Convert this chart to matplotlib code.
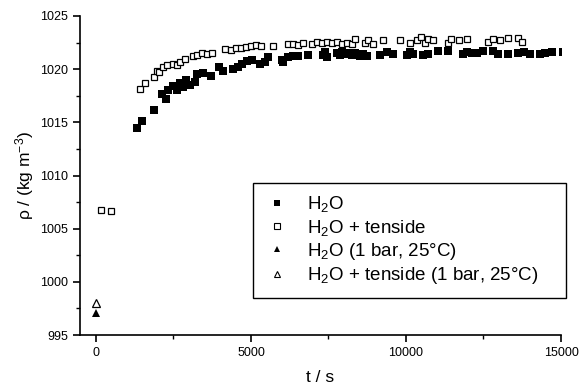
import matplotlib
matplotlib.use("Agg")
import matplotlib.pyplot as plt
from matplotlib.lines import Line2D
from matplotlib.ticker import MultipleLocator

plt.rcParams["font.family"] = ["Liberation Sans", "DejaVu Sans"]
plt.rcParams["mathtext.fontset"] = "custom"
plt.rcParams["mathtext.rm"] = "Liberation Sans"
plt.rcParams["mathtext.it"] = "Liberation Sans:italic"

# H2O (high pressure), time in s, density in kg/m3
t_h2o = [1330, 1500, 1880, 2140, 2250, 2310, 2500, 2600, 2710, 2820, 2900, 3030,
         3180, 3250, 3440, 3720, 3980, 4090, 4430, 4590, 4700, 4860, 5020, 5290,
         5450, 5560, 5990, 6020, 6200, 6360, 6530, 6850, 7330, 7390, 7440, 7760,
         7860, 7950, 8050, 8150, 8250, 8350, 8450, 8520, 8620, 8740, 9160, 9380,
         9590, 10020, 10120, 10230, 10560, 10710, 11040, 11370, 11840, 11970,
         12120, 12280, 12500, 12820, 12980, 13300, 13610, 13800, 14000, 14320,
         14500, 14700, 15080]
rho_h2o = [1014.5, 1015.1, 1016.2, 1017.7, 1017.2, 1018.0, 1018.4, 1018.0, 1018.7,
           1018.3, 1019.0, 1018.5, 1018.8, 1019.5, 1019.6, 1019.4, 1020.2, 1019.8,
           1020.0, 1020.2, 1020.5, 1020.8, 1020.9, 1020.5, 1020.7, 1021.1, 1020.9,
           1020.7, 1021.1, 1021.2, 1021.2, 1021.3, 1021.3, 1021.6, 1021.1, 1021.5,
           1021.3, 1021.6, 1021.4, 1021.5, 1021.3, 1021.5, 1021.4, 1021.2, 1021.4,
           1021.2, 1021.3, 1021.6, 1021.4, 1021.3, 1021.6, 1021.4, 1021.3, 1021.4,
           1021.7, 1021.7, 1021.4, 1021.6, 1021.5, 1021.5, 1021.7, 1021.7, 1021.4,
           1021.4, 1021.5, 1021.6, 1021.4, 1021.4, 1021.5, 1021.6, 1021.6]

# H2O + tenside (high pressure)
t_tens = [150, 470, 1420, 1580, 1870, 1960, 2040, 2150, 2300, 2470, 2600, 2710,
          2870, 3140, 3270, 3410, 3570, 3730, 4160, 4360, 4520, 4680, 4840, 5000,
          5160, 5320, 5710, 6190, 6350, 6520, 6680, 6960, 7120, 7280, 7440, 7600,
          7760, 7930, 8090, 8250, 8350, 8680, 8780, 8940, 9250, 9810, 10130, 10340,
          10500, 10610, 10720, 10880, 11360, 11460, 11710, 11970, 12650, 12810,
          13020, 13290, 13610, 13740]
rho_tens = [1006.8, 1006.7, 1018.1, 1018.7, 1019.3, 1019.8, 1019.7, 1020.2, 1020.4,
            1020.5, 1020.4, 1020.7, 1021.0, 1021.2, 1021.3, 1021.5, 1021.4, 1021.5,
            1021.9, 1021.8, 1022.0, 1022.0, 1022.1, 1022.2, 1022.3, 1022.2, 1022.2,
            1022.4, 1022.4, 1022.3, 1022.5, 1022.4, 1022.6, 1022.5, 1022.6, 1022.5,
            1022.6, 1022.4, 1022.5, 1022.4, 1022.8, 1022.5, 1022.7, 1022.4, 1022.7,
            1022.7, 1022.5, 1022.7, 1023.0, 1022.5, 1022.8, 1022.7, 1022.5, 1022.8,
            1022.7, 1022.8, 1022.6, 1022.8, 1022.7, 1022.9, 1022.9, 1022.6]

# reference values at 1 bar, 25 C
t_ref_h2o = [0]
rho_ref_h2o = [997.1]
t_ref_tens = [0]
rho_ref_tens = [998.0]

labels = ["H$_2$O", "H$_2$O + tenside", "H$_2$O (1 bar, 25°C)",
          "H$_2$O + tenside (1 bar, 25°C)"]

fig = plt.figure(figsize=(5.8, 3.86), dpi=100)
ax = fig.add_axes([80 / 580, 51 / 386, 481 / 580, 319 / 386])

ax.plot(t_h2o, rho_h2o, "s", color="black", markersize=5.5, markeredgewidth=0)
ax.plot(t_tens, rho_tens, "s", markerfacecolor="white", markeredgecolor="black",
        markersize=5, markeredgewidth=0.9)
ax.plot(t_ref_h2o, rho_ref_h2o, "^", color="black", markersize=6, markeredgewidth=0)
ax.plot(t_ref_tens, rho_ref_tens, "^", markerfacecolor="white", markeredgecolor="black",
        markersize=5.5, markeredgewidth=0.9)

ax.set_xlim(-516, 15000)
ax.set_ylim(995, 1025)
ax.xaxis.set_major_locator(MultipleLocator(5000))
ax.xaxis.set_minor_locator(MultipleLocator(2500))
ax.yaxis.set_major_locator(MultipleLocator(5))
ax.yaxis.set_minor_locator(MultipleLocator(2.5))
ax.tick_params(which="major", direction="out", length=5, width=1.2, labelsize=9)
ax.tick_params(which="minor", direction="out", length=3, width=1)

ax.spines["top"].set_visible(False)
ax.spines["right"].set_visible(False)
ax.spines["left"].set_linewidth(1.2)
ax.spines["bottom"].set_linewidth(1.2)

ax.set_xlabel("t / s", fontsize=12.5, labelpad=8)
ax.set_ylabel(r"ρ / (kg m$^{-3}$)", fontsize=12.5, labelpad=3)

handles = [
    Line2D([], [], ls="none", marker="s", color="black", markersize=4.5, markeredgewidth=0),
    Line2D([], [], ls="none", marker="s", markerfacecolor="white", markeredgecolor="black",
           markersize=4.5, markeredgewidth=0.8),
    Line2D([], [], ls="none", marker="^", color="black", markersize=5, markeredgewidth=0),
    Line2D([], [], ls="none", marker="^", markerfacecolor="white", markeredgecolor="black",
           markersize=5, markeredgewidth=0.8),
]
leg = ax.legend(handles, labels, loc="upper left",
                bbox_to_anchor=(253 / 580, (386 - 294) / 386, 313 / 580, 111 / 386),
                bbox_transform=fig.transFigure, mode="expand",
                fontsize=13.5, frameon=True, fancybox=False,
                edgecolor="black", framealpha=1, borderpad=0.6, labelspacing=0.18,
                handlelength=1.4, handletextpad=0.9, borderaxespad=0)
leg.get_frame().set_linewidth(1)

plt.savefig("out.png", dpi=100)
plt.close()
